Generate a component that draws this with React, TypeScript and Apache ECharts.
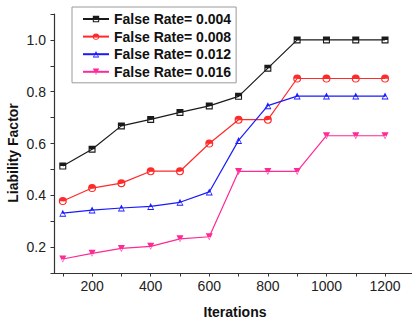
import React, { useEffect, useRef } from "react";
import * as echarts from "echarts";

const iterations = [100, 200, 300, 400, 500, 600, 700, 800, 900, 1000, 1100, 1200];
const rate004 = [0.513, 0.578, 0.668, 0.693, 0.72, 0.745, 0.782, 0.891, 1.0, 1.0, 1.0, 1.0];
const rate008 = [0.378, 0.428, 0.447, 0.493, 0.493, 0.6, 0.692, 0.692, 0.851, 0.851, 0.851, 0.851];
const rate012 = [0.331, 0.343, 0.351, 0.357, 0.373, 0.413, 0.612, 0.746, 0.783, 0.783, 0.783, 0.783];
const rate016 = [0.154, 0.176, 0.195, 0.203, 0.232, 0.24, 0.492, 0.492, 0.492, 0.63, 0.63, 0.63];
const seriesNames = ["False Rate= 0.004", "False Rate= 0.008", "False Rate= 0.012", "False Rate= 0.016"];
const xLabelValues = [200, 400, 600, 800, 1000, 1200];
const xTickValues = [100, 200, 300, 400, 500, 600, 700, 800, 900, 1000, 1100, 1200];
const yLabelValues = [0.2, 0.4, 0.6, 0.8, 1.0];
const yTickValues = [0.1, 0.2, 0.3, 0.4, 0.5, 0.6, 0.7, 0.8, 0.9, 1.0, 1.1];

const colors = ["#1a1a1a", "#ff2a2a", "#1a1aff", "#ff2a95"];

// half-filled symbols: filled shape with a hollow lower half
const symSquare = "path://M0 0 H10 V10 H0 Z M1.6 5 V8.4 H8.4 V5 Z";
const symCircle =
  "path://M0 5 A5 5 0 1 1 10 5 A5 5 0 1 1 0 5 Z M1.5 5.2 A3.5 3.5 0 0 0 8.5 5.2 Z";
const symTriUp = "path://M5 0 L10 10 L0 10 Z M3.3 5.4 L1.9 8.6 L8.1 8.6 L6.7 5.4 Z";
const symTriDown = "path://M0 0 L10 0 L5 10 Z M3.4 5.2 L5 8.4 L6.6 5.2 Z";
const symbols = [symSquare, symCircle, symTriUp, symTriDown];

const FONT = "'Liberation Sans', Arial, sans-serif";

export default function App() {
  const ref = useRef<HTMLDivElement>(null);
  useEffect(() => {
    if (!ref.current) return;
    const chart = echarts.init(ref.current, null, { renderer: "svg" });
    const datasets = [rate004, rate008, rate012, rate016];
    chart.setOption({
      animation: false,
      textStyle: { fontFamily: FONT },
      grid: { left: 54, top: 14, right: 0, bottom: 51, containLabel: false },
      legend: {
        orient: "vertical",
        left: 72,
        top: 7,
        padding: [4, 5, 3, 10],
        itemGap: 1.6,
        itemWidth: 26,
        itemHeight: 8,
        borderColor: "#9a9a9a",
        borderWidth: 1,
        backgroundColor: "#fff",
        textStyle: { fontFamily: FONT, fontSize: 14, fontWeight: "bold", color: "#111", lineHeight: 16 },
        data: seriesNames,
      },
      xAxis: {
        type: "value",
        min: 70,
        max: 1292,
        splitLine: { show: false },
        axisLine: { show: true, lineStyle: { color: "#333", width: 1.2 } },
        axisTick: { show: true, inside: false, length: 3.5, customValues: xTickValues, lineStyle: { color: "#333" } },
        axisLabel: {
          customValues: xLabelValues,
          fontSize: 14,
          color: "#222",
          margin: 6,
          fontFamily: FONT,
          formatter: (v: number) => String(v),
        },
      },
      yAxis: {
        type: "value",
        min: 0.1,
        max: 1.1,
        splitLine: { show: false },
        axisLine: { show: true, lineStyle: { color: "#333", width: 1.2 } },
        axisTick: { show: true, inside: false, length: 3.5, customValues: yTickValues, lineStyle: { color: "#333" } },
        axisLabel: {
          customValues: yLabelValues,
          fontSize: 14,
          color: "#222",
          margin: 8,
          fontFamily: FONT,
          formatter: (v: number) => v.toFixed(1),
        },
      },
      graphic: [
        {
          type: "text",
          x: 13,
          y: 153,
          rotation: Math.PI / 2,
          style: {
            text: "Liability Factor",
            fontFamily: FONT,
            fontSize: 14,
            fontWeight: "bold",
            fill: "#111",
            align: "center",
            verticalAlign: "middle",
          },
        },
        {
          type: "text",
          x: 235,
          y: 312,
          style: {
            text: "Iterations",
            fontFamily: FONT,
            fontSize: 14,
            fontWeight: "bold",
            fill: "#111",
            align: "center",
            verticalAlign: "middle",
          },
        },
      ],
      series: datasets.map((d, i) => ({
        name: seriesNames[i],
        type: "line",
        data: iterations.map((x, j) => [x, d[j]]),
        symbol: symbols[i],
        symbolSize: i === 1 ? 8 : 7,
        showAllSymbol: true,
        lineStyle: { color: colors[i], width: 1.2 },
        itemStyle: { color: colors[i] },
        emphasis: { disabled: true },
        z: 3 + i,
      })),
    });
    return () => chart.dispose();
  }, []);
  return <div ref={ref} style={{ width: 412, height: 324, position: "absolute", left: 0, top: 0 }} />;
}
